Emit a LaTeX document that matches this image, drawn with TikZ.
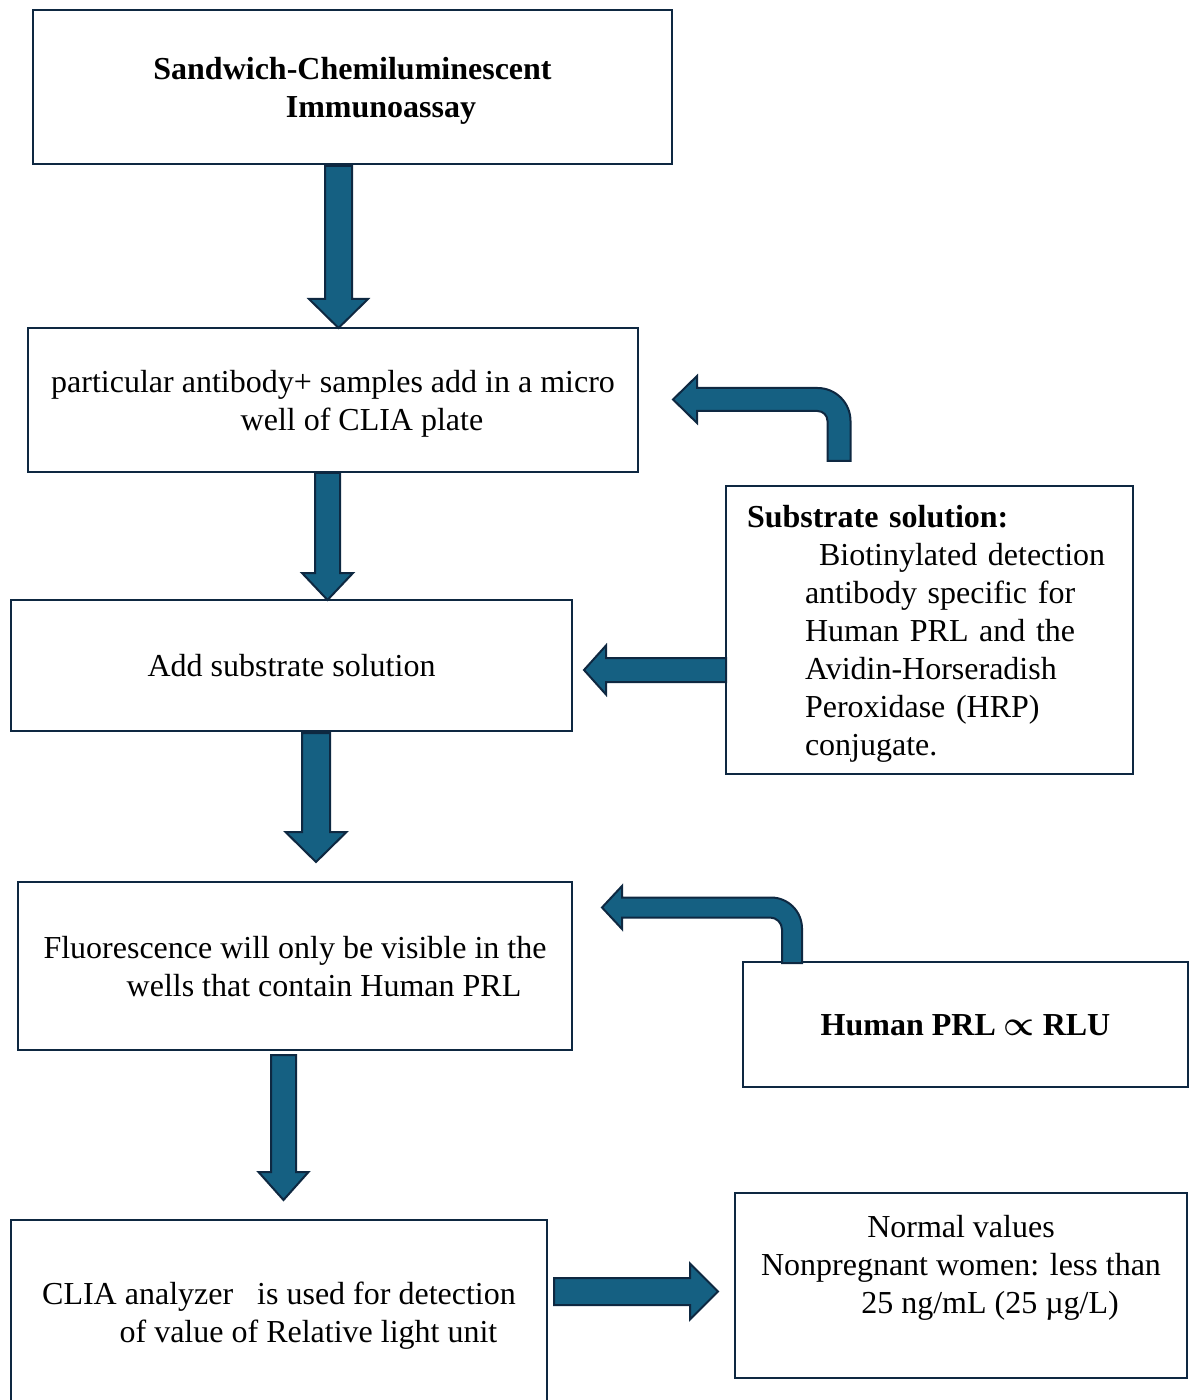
\documentclass[tikz,border=0pt]{standalone}
\usepackage{fontspec}
\setmainfont{Liberation Serif}
\usetikzlibrary{calc}
\definecolor{arrowfill}{HTML}{156082}
\definecolor{arrowline}{HTML}{0E2841}
\definecolor{boxline}{HTML}{0E2841}
\newcommand\tstrut{\rule{0pt}{16pt}}
\newcommand\downblock[5]{\path[blockarrow] ($(#1)+(-#3,0)$) -- ($(#2)+(-#3,-#5)$) -- ($(#2)+(-#4,-#5)$) -- (#2) -- ($(#2)+(#4,-#5)$) -- ($(#2)+(#3,-#5)$) -- ($(#1)+(#3,0)$) -- cycle;}
\newcommand\sideblock[5]{\path[blockarrow] ($(#1)+(0,-#3)$) -- ($(#2)+(#5,-#3)$) -- ($(#2)+(#5,-#4)$) -- (#2) -- ($(#2)+(#5,#4)$) -- ($(#2)+(#5,#3)$) -- ($(#1)+(0,#3)$) -- cycle;}
\newcommand\bentblock[7]{\path[blockarrow] ($(#1)+(-#3,0)$) -- ($(#1 |- #2)+(-#3,#3+#5)$) arc[start angle=0,end angle=-90,radius=#5]
  -- ($(#2)+(#7,#3)$) -- ($(#2)+(#7,#6)$) -- (#2) -- ($(#2)+(#7,-#6)$) -- ($(#2)+(#7,-#3)$)
  -- ($(#1 |- #2)+(#3-#4,-#3)$) arc[start angle=-90,end angle=0,radius=#4] -- ($(#1)+(#3,0)$) -- cycle;}
\begin{document}
\begin{tikzpicture}[x=0.5pt,y=-0.5pt,font=\fontsize{16}{19}\selectfont,
  box/.style 2 args={draw=boxline,line width=1.2pt,outer sep=0pt,inner sep=0pt,anchor=north west,
    minimum width=#1*0.5pt,minimum height=#2*0.5pt,align=center,
    execute at begin node={\tstrut},execute at end node={\rule[-4.7pt]{0pt}{0pt}}},
  boldbox/.style={font=\fontsize{16}{19}\selectfont\bfseries},
  blockarrow/.style={fill=arrowfill,draw=arrowline,line width=1pt}]
\useasboundingbox (0,0) rectangle (1190,1400);
\node[box={639}{154},boldbox] (sci) at (33,10) {\tstrut Sandwich-Chemiluminescent\\\hspace*{28.5pt}Immunoassay};
\node[box={610}{144}] (prep) at (28,328) {\tstrut particular antibody+ samples add in a micro\\\hspace*{29pt}well of CLIA plate};
\node[box={561}{131}] (addsub) at (11,600) {Add substrate solution};
\node[box={407}{288},align=left,text width=182.5pt,inner xsep=10.5pt] (subsol) at (726,486) {\textbf{Substrate solution:}\\
  \hspace*{36pt}Biotinylated detection\\\hspace*{29pt}antibody specific for\\\hspace*{29pt}Human PRL and the\\
  \hspace*{29pt}Avidin-Horseradish\\\hspace*{29pt}Peroxidase (HRP)\\\hspace*{29pt}conjugate.};
\node[box={554}{168}] (fluor) at (18,882) {\tstrut Fluorescence will only be visible in the\\\hspace*{29pt}wells that contain Human PRL};
\node[box={445}{125},boldbox] (prlrlu) at (743,962) {Human PRL {\boldmath$\propto$} RLU};
\node[box={536}{184}] (clia) at (11,1220) {\tstrut CLIA analyzer\ \ \ is used for detection\\\hspace*{29.5pt}of value of Relative light unit};
\node[box={452}{185}] (normal) at (735,1193) {\tstrut Normal values\\Nonpregnant women: less than\\\hspace*{29pt}25 ng/mL (25 µg/L)\rule[-26pt]{0pt}{0pt}};
\coordinate (a1) at ($(sci.south)+(-14,2)$);
\downblock{a1}{a1 |- prep.north}{13.5}{29.5}{29}
\coordinate (a2) at ($(prep.south)+(-5.5,1)$);
\downblock{a2}{a2 |- addsub.north}{12.5}{25.5}{27}
\coordinate (a3) at ($(addsub.south)+(24.5,2)$);
\coordinate (a3t) at ($(a3 |- fluor.north)+(0,-20)$);
\downblock{a3}{a3t}{14}{30.5}{30}
\coordinate (a4) at ($(fluor.south)+(-11.5,5)$);
\coordinate (a4t) at ($(a4 |- clia.north)+(0,-20)$);
\downblock{a4}{a4t}{12.5}{25}{28}
\coordinate (l1) at ($(subsol.west)+(0,40)$);
\coordinate (l1t) at ($(l1 -| addsub.east)+(12,0)$);
\sideblock{l1}{l1t}{12}{24.5}{22}
\coordinate (r1) at ($(clia.east)+(7,-20.5)$);
\coordinate (r1t) at ($(r1 -| normal.west)+(-17,0)$);
\sideblock{r1}{r1t}{13.5}{28}{-28}
\coordinate (b1) at ($(subsol.north)+(-90.5,-25)$);
\coordinate (b1t) at ($(prep.east)+(35,-0.5)$);
\bentblock{b1}{b1t}{11.5}{33}{10}{23.5}{24}
\coordinate (b2) at ($(prlrlu.north)+(-173.5,1)$);
\coordinate (b2t) at ($(fluor.east)+(30,-58.5)$);
\bentblock{b2}{b2t}{10}{31}{12}{21.5}{20}
\end{tikzpicture}
\end{document}
